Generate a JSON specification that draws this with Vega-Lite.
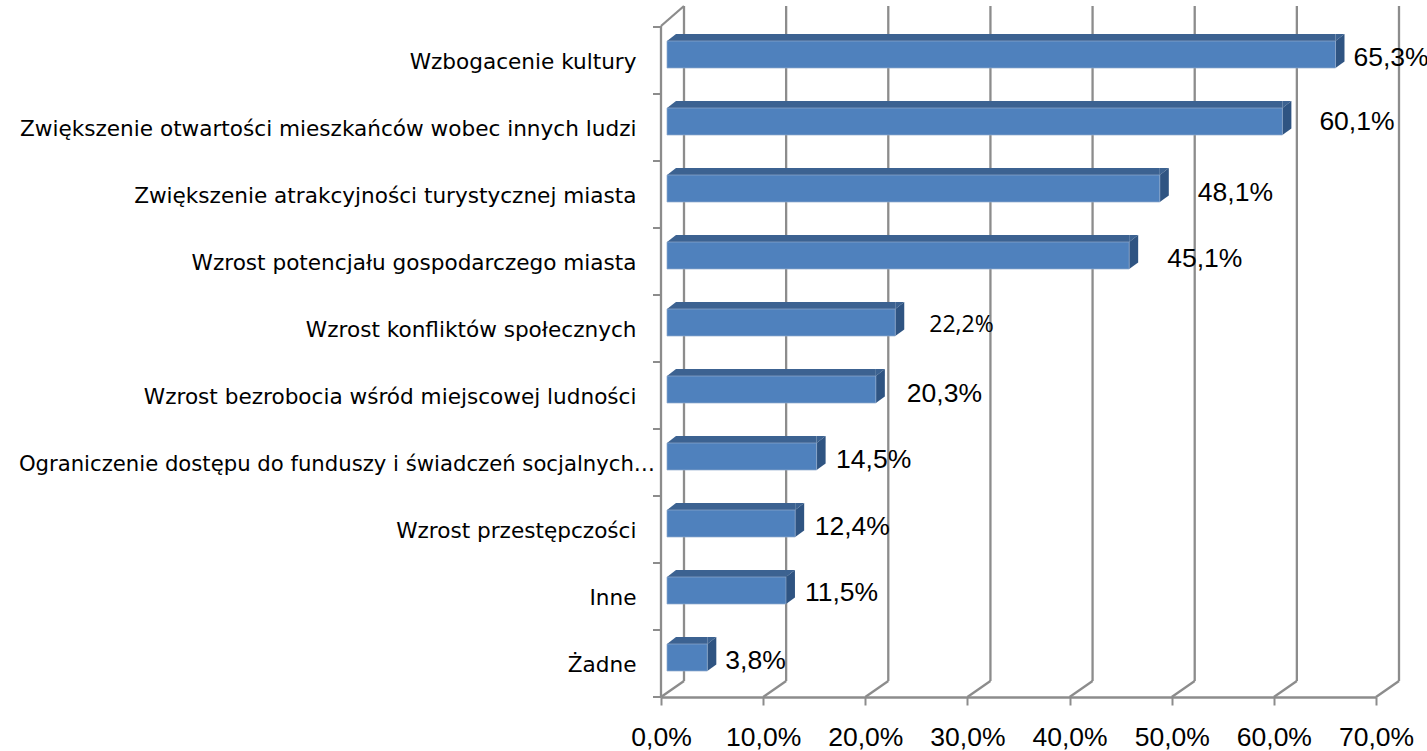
{
"$schema":"https://vega.github.io/schema/vega-lite/v6.json",
"width":715,"height":670,
"autosize":{"type":"none"},
"padding":{"left":661,"top":27,"right":51,"bottom":54},
"background":"white",
"view":{"stroke":null},
"datasets":{
"bars":[
{"kategoria":"Wzbogacenie kultury","wartosc":65.3,"start":0,"etykieta":"65,3%"},
{"kategoria":"Zwiększenie otwartości mieszkańców wobec innych ludzi","wartosc":60.1,"start":0,"etykieta":"60,1%"},
{"kategoria":"Zwiększenie atrakcyjności turystycznej miasta","wartosc":48.1,"start":0,"etykieta":"48,1%"},
{"kategoria":"Wzrost potencjału gospodarczego miasta","wartosc":45.1,"start":0,"etykieta":"45,1%"},
{"kategoria":"Wzrost konfliktów społecznych","wartosc":22.2,"start":0,"etykieta":"22,2%"},
{"kategoria":"Wzrost bezrobocia wśród miejscowej ludności","wartosc":20.3,"start":0,"etykieta":"20,3%"},
{"kategoria":"Ograniczenie dostępu do funduszy i świadczeń socjalnych…","wartosc":14.5,"start":0,"etykieta":"14,5%"},
{"kategoria":"Wzrost przestępczości","wartosc":12.4,"start":0,"etykieta":"12,4%"},
{"kategoria":"Inne","wartosc":11.5,"start":0,"etykieta":"11,5%"},
{"kategoria":"Żadne","wartosc":3.8,"start":0,"etykieta":"3,8%"}
],
"ticks":[
{"t":0,"gora":"Wzbogacenie kultury","dol":"Żadne"},
{"t":10,"gora":"Wzbogacenie kultury","dol":"Żadne"},
{"t":20,"gora":"Wzbogacenie kultury","dol":"Żadne"},
{"t":30,"gora":"Wzbogacenie kultury","dol":"Żadne"},
{"t":40,"gora":"Wzbogacenie kultury","dol":"Żadne"},
{"t":50,"gora":"Wzbogacenie kultury","dol":"Żadne"},
{"t":60,"gora":"Wzbogacenie kultury","dol":"Żadne"},
{"t":70,"gora":"Wzbogacenie kultury","dol":"Żadne"}
],
"wall":[{"t":0,"gora":"Wzbogacenie kultury","dol":"Żadne"}]
},
"layer":[
{"data":{"name":"ticks"},
 "mark":{"type":"rule","color":"#8c8c8c","strokeWidth":2.3,"xOffset":23,"x2Offset":23,"yOffset":-54.5,"y2Offset":17.5},
 "encoding":{
 "x":{"field":"t","type":"quantitative","scale":{"domain":[0,70],"nice":false},
  "axis":{"orient":"bottom","values":[0,10,20,30,40,50,60,70],"title":null,"grid":false,"domainColor":"#8c8c8c","domainWidth":2.3,"tickColor":"#8c8c8c","tickWidth":2,"tickSize":8,"labelFont":"Liberation Sans","labelFontSize":26.5,"labelColor":"#000000","labelPadding":19,"labelOverlap":false,"labelFlush":false,"labelExpr":"replace(format(datum.value,'.1f'),'.',',')+'%'"}},
 "x2":{"field":"t"},
 "y":{"field":"gora","type":"nominal",
  "scale":{"domain":["Wzbogacenie kultury","Zwiększenie otwartości mieszkańców wobec innych ludzi","Zwiększenie atrakcyjności turystycznej miasta","Wzrost potencjału gospodarczego miasta","Wzrost konfliktów społecznych","Wzrost bezrobocia wśród miejscowej ludności","Ograniczenie dostępu do funduszy i świadczeń socjalnych…","Wzrost przestępczości","Inne","Żadne"],"padding":0},
  "axis":{"title":null,"grid":false,"domain":false,"ticks":false,"labelFont":"DejaVu Sans","labelFontSize":21.6,"labelColor":"#000000","labelLimit":700,"labelOverlap":false,"labelPadding":25,"labelOffset":2.5,"labelExpr":"indexof(datum.value,'Ograniczenie')===0?'':datum.value"}},
 "y2":{"field":"dol"}
 }},
{"data":{"name":"ticks"},
 "mark":{"type":"rule","color":"#8c8c8c","strokeWidth":2.3,"x2Offset":23,"yOffset":33.5,"y2Offset":17.5},
 "encoding":{"x":{"field":"t","type":"quantitative"},"x2":{"field":"t"},"y":{"field":"dol","type":"nominal"},"y2":{"field":"dol"}}},
{"data":{"name":"wall"},
 "mark":{"type":"rule","color":"#8c8c8c","strokeWidth":2.3,"x2Offset":23,"yOffset":-34.5,"y2Offset":-54.5},
 "encoding":{"x":{"field":"t","type":"quantitative"},"x2":{"field":"t"},"y":{"field":"gora","type":"nominal"},"y2":{"field":"gora"}}},
{"data":{"name":"wall"},
 "mark":{"type":"rule","color":"#8c8c8c","strokeWidth":2.3,"yOffset":-34.5,"y2Offset":33.5},
 "encoding":{"x":{"field":"t","type":"quantitative"},"x2":{"field":"t"},"y":{"field":"gora","type":"nominal"},"y2":{"field":"dol"}}},
{"data":{"name":"wall"},
 "mark":{"type":"rule","color":"#8c8c8c","strokeWidth":2,"xOffset":-8,"yOffset":33.5,"y2Offset":33.5},
 "encoding":{"x":{"field":"t","type":"quantitative"},"x2":{"field":"t"},"y":{"field":"dol","type":"nominal"},"y2":{"field":"dol"}}},
{"data":{"name":"bars"},
 "mark":{"type":"rule","color":"#8c8c8c","strokeWidth":2,"xOffset":-8,"yOffset":-33.5,"y2Offset":-33.5},
 "encoding":{"x":{"field":"start","type":"quantitative"},"x2":{"field":"start"},"y":{"field":"kategoria","type":"nominal"},"y2":{"field":"kategoria"}}},
{"data":{"name":"bars"},
 "mark":{"type":"bar","size":7,"yOffset":-23,"color":"#3c6291","xOffset":7.5,"x2Offset":15},
 "encoding":{"x":{"field":"wartosc","type":"quantitative","stack":null},"x2":{"field":"start"},"y":{"field":"kategoria","type":"nominal"}}},
{"data":{"name":"bars"},
 "mark":{"type":"point","filled":true,"size":4,"opacity":1,"strokeWidth":0,"color":"#3c6291","xOffset":6,"yOffset":-6,"shape":"M0,-13.5 L9,-20.5 L9,-13.5 Z"},
 "encoding":{"x":{"field":"start","type":"quantitative"},"y":{"field":"kategoria","type":"nominal"}}},
{"data":{"name":"bars"},
 "mark":{"type":"point","filled":true,"size":4,"opacity":1,"strokeWidth":0,"color":"#3c6291","xOffset":7.5,"yOffset":-6,"shape":"M0,-20.5 L9,-20.5 L0,-13.5 Z"},
 "encoding":{"x":{"field":"wartosc","type":"quantitative"},"y":{"field":"kategoria","type":"nominal"}}},
{"data":{"name":"bars"},
 "mark":{"type":"point","filled":true,"size":4,"opacity":1,"strokeWidth":0,"color":"#2f5482","xOffset":7.5,"yOffset":-6,"shape":"M0,-13.5 L9,-20.5 L9,7 L0,13.5 Z"},
 "encoding":{"x":{"field":"wartosc","type":"quantitative"},"y":{"field":"kategoria","type":"nominal"}}},
{"data":{"name":"bars"},
 "mark":{"type":"bar","size":27,"yOffset":-6,"color":"#4f81bd","stroke":"#8fa9cc","strokeWidth":0.7,"xOffset":7.5,"x2Offset":6},
 "encoding":{"x":{"field":"wartosc","type":"quantitative","stack":null},"x2":{"field":"start"},"y":{"field":"kategoria","type":"nominal"}}},
{"data":{"name":"bars"},
 "transform":[{"filter":"indexof(datum.kategoria,'Ograniczenie')===0"}],
 "mark":{"type":"text","align":"right","baseline":"middle","color":"#000000","font":"DejaVu Sans","fontSize":21.2,"dx":-6,"dy":2.5},
 "encoding":{"x":{"field":"start","type":"quantitative"},"y":{"field":"kategoria","type":"nominal"},"text":{"field":"kategoria","type":"nominal"}}},
{"data":{"name":"bars"},"transform":[{"filter":"datum.wartosc==65.3||datum.wartosc==3.8"}],
 "mark":{"type":"text","align":"left","baseline":"middle","color":"#000000","font":"Liberation Sans","fontSize":26.5,"dx":25.5,"dy":-3},
 "encoding":{"x":{"field":"wartosc","type":"quantitative"},"y":{"field":"kategoria","type":"nominal"},"text":{"field":"etykieta","type":"nominal"}}},
{"data":{"name":"bars"},"transform":[{"filter":"datum.wartosc==60.1"}],
 "mark":{"type":"text","align":"left","baseline":"middle","color":"#000000","font":"Liberation Sans","fontSize":26.5,"dx":44.5,"dy":-6},
 "encoding":{"x":{"field":"wartosc","type":"quantitative"},"y":{"field":"kategoria","type":"nominal"},"text":{"field":"etykieta","type":"nominal"}}},
{"data":{"name":"bars"},"transform":[{"filter":"datum.wartosc==48.1"}],
 "mark":{"type":"text","align":"left","baseline":"middle","color":"#000000","font":"Liberation Sans","fontSize":26.5,"dx":45.5,"dy":-2},
 "encoding":{"x":{"field":"wartosc","type":"quantitative"},"y":{"field":"kategoria","type":"nominal"},"text":{"field":"etykieta","type":"nominal"}}},
{"data":{"name":"bars"},"transform":[{"filter":"datum.wartosc==45.1"}],
 "mark":{"type":"text","align":"left","baseline":"middle","color":"#000000","font":"Liberation Sans","fontSize":26.5,"dx":45.5,"dy":-3},
 "encoding":{"x":{"field":"wartosc","type":"quantitative"},"y":{"field":"kategoria","type":"nominal"},"text":{"field":"etykieta","type":"nominal"}}},
{"data":{"name":"bars"},"transform":[{"filter":"datum.wartosc==22.2"}],
 "mark":{"type":"text","align":"left","baseline":"middle","color":"#000000","font":"Open Sans","fontSize":23,"dx":41.5,"dy":-3.5},
 "encoding":{"x":{"field":"wartosc","type":"quantitative"},"y":{"field":"kategoria","type":"nominal"},"text":{"field":"etykieta","type":"nominal"}}},
{"data":{"name":"bars"},"transform":[{"filter":"datum.wartosc==20.3"}],
 "mark":{"type":"text","align":"left","baseline":"middle","color":"#000000","font":"Liberation Sans","fontSize":26.5,"dx":38.5,"dy":-2},
 "encoding":{"x":{"field":"wartosc","type":"quantitative"},"y":{"field":"kategoria","type":"nominal"},"text":{"field":"etykieta","type":"nominal"}}},
{"data":{"name":"bars"},"transform":[{"filter":"datum.wartosc==14.5||datum.wartosc==12.4"}],
 "mark":{"type":"text","align":"left","baseline":"middle","color":"#000000","font":"Liberation Sans","fontSize":26.5,"dx":27,"dy":-3},
 "encoding":{"x":{"field":"wartosc","type":"quantitative"},"y":{"field":"kategoria","type":"nominal"},"text":{"field":"etykieta","type":"nominal"}}},
{"data":{"name":"bars"},"transform":[{"filter":"datum.wartosc==11.5"}],
 "mark":{"type":"text","align":"left","baseline":"middle","color":"#000000","font":"Liberation Sans","fontSize":26.5,"dx":26.5,"dy":-4},
 "encoding":{"x":{"field":"wartosc","type":"quantitative"},"y":{"field":"kategoria","type":"nominal"},"text":{"field":"etykieta","type":"nominal"}}}
]
}
